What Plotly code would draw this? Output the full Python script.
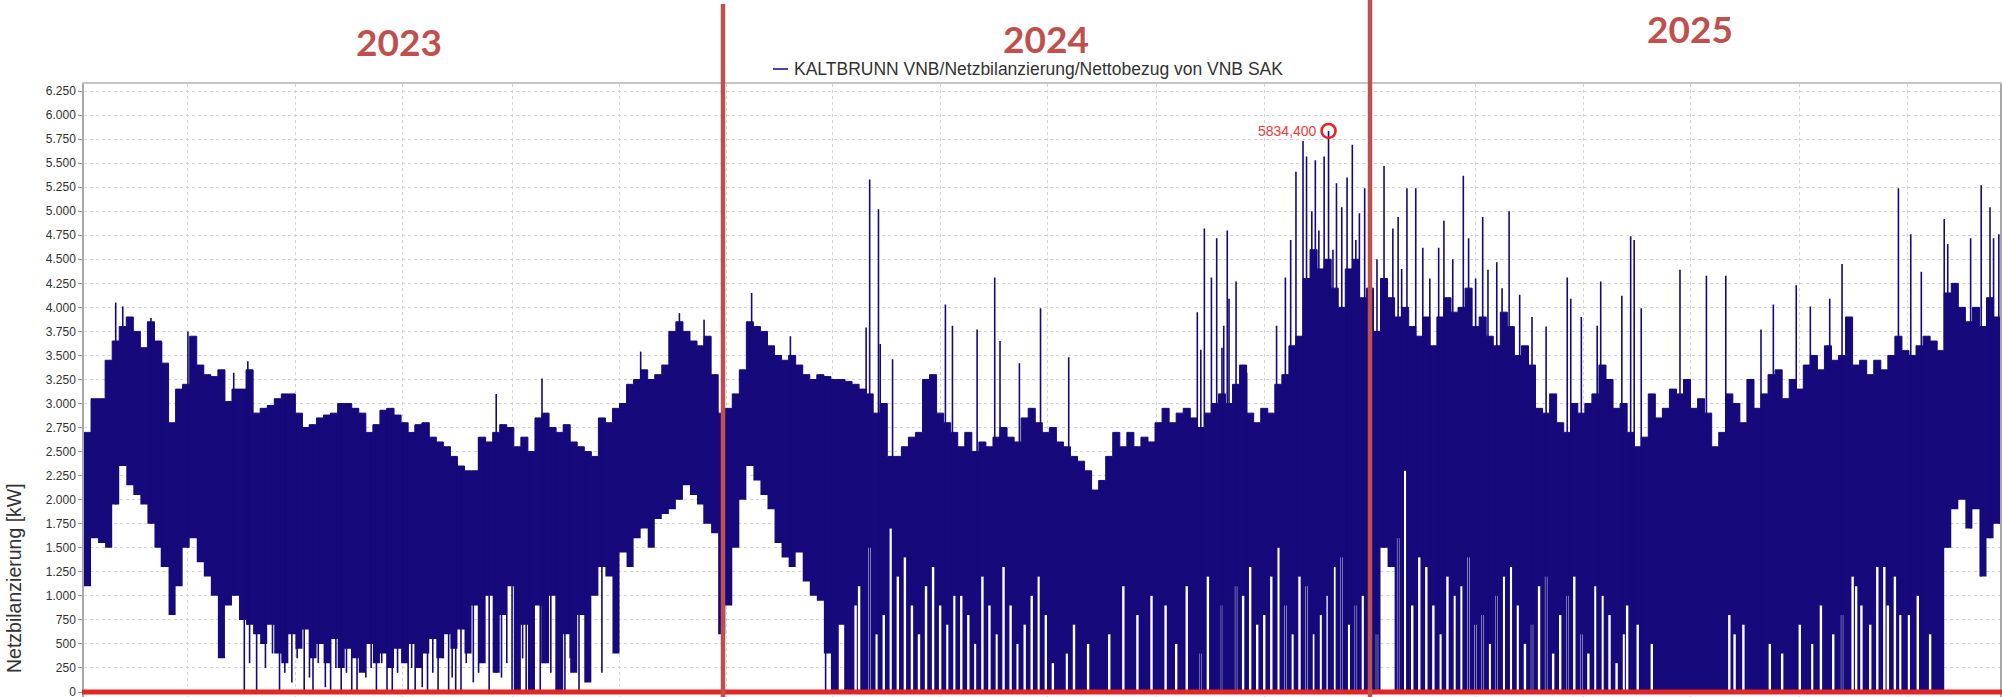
import pandas as pd
import plotly.graph_objects as go

# ---------------- data ----------------
band_start = "2023-01-01"
band_step_days = 4

# upper edge of the dense band, one value per 4-day step
upper = [
    2700, 3050, 3050, 3450, 3650, 3800, 3900, 3750, 3580, 3850,
    3650, 3420, 2800, 3150, 3200, 3700, 3400, 3300, 3280, 3350,
    3020, 3150, 3150, 3350, 2900, 2950, 2980, 3050, 3100, 3100,
    2900, 2750, 2780, 2850, 2880, 2900, 3000, 3000, 2950, 2900,
    2700, 2780, 2930, 2950, 2880, 2800, 2700, 2780, 2800, 2650,
    2600, 2550, 2450, 2350, 2300, 2300, 2650, 2600, 2700, 2780,
    2750, 2550, 2650, 2500, 2850, 2900, 2750, 2700, 2780, 2600,
    2550, 2500, 2450, 2850, 2800, 2950, 3000, 3200, 3250, 3350,
    3250, 3300, 3400, 3750, 3850, 3750, 3650, 3600, 3700, 3300,
    2900, 2950, 3100, 3350, 3850, 3800, 3750, 3600, 3500, 3450,
    3500, 3400, 3300, 3250, 3300, 3280, 3250, 3250, 3230, 3200,
    3150, 3100, 2900, 3000, 2450, 2450, 2550, 2650, 2700, 3250,
    3300, 2900, 2800, 2700, 2550, 2700, 2500, 2600, 2550, 2650,
    2750, 2650, 2600, 2850, 2950, 2800, 2700, 2750, 2600, 2550,
    2450, 2400, 2300, 2100, 2200, 2450, 2700, 2550, 2700, 2550,
    2650, 2600, 2800, 2950, 2800, 2900, 2950, 2850, 2750, 2900,
    3000, 3100, 3000, 3200, 3400, 2900, 2800, 2950, 2900, 3200,
    3300, 3600, 3700, 4300, 4600, 4400, 4500, 4200, 4000, 4400,
    4500, 4100, 4200, 3750, 4300, 4100, 3900, 4000, 3800, 3700,
    3900, 3600, 3900, 4100, 3950, 4000, 4200, 3800, 3900, 3700,
    3600, 3950, 3800, 3500, 3600, 3400, 2950, 2900, 3100, 2800,
    2700, 3000, 2900, 3000, 3100, 3400, 3250, 2950, 3000, 2700,
    2550, 2650, 3100, 2850, 2950, 3150, 3100, 3250, 2950, 3050,
    2900, 2550, 2700, 3100, 3000, 2800, 3250, 2950, 3100, 3300,
    3350, 3050, 3250, 3150, 3400, 3500, 3350, 3600, 3450, 3500,
    3900, 3400, 3450, 3300, 3450, 3350, 3500, 3700, 3550, 3500,
    3600, 3700, 3650, 3550, 4150, 4250, 4000, 3850, 4000, 3800,
    4100, 3900, 3700,
]

# lower edge of the dense band, one value per 4-day step
lower = [
    1100, 1600, 1550, 1500, 1950, 2350, 2150, 2050, 1950, 1750,
    1500, 1300, 800, 1100, 1500, 1600, 1350, 1200, 1000, 350,
    900, 1000, 750, 700, 600, 500, 700, 400, 300, 600,
    450, 650, 350, 500, 300, 550, 250, 450, 350, 200,
    500, 300, 400, 250, 450, 300, 500, 250, 400, 550,
    350, 600, 450, 650, 400, 900, 300, 1000, 200, 800,
    1100, 0, 700, 0, 900, 300, 1000, 0, 600, 200,
    800, 100, 1000, 1300, 1200, 400, 1450, 1300, 1600, 1700,
    1500, 1800, 1850, 1900, 2000, 2150, 2050, 1950, 1750, 1650,
    600, 900, 1500, 2000, 2350, 2200, 2050, 1900, 1550, 1400,
    1300, 1450, 1150, 1000, 950, 400, 0, 700, 0, 0,
    0, 0, 0, 0, 0, 0, 0, 0, 0, 0,
    0, 0, 0, 0, 0, 0, 0, 0, 0, 0,
    0, 0, 0, 0, 0, 0, 0, 0, 0, 0,
    0, 0, 0, 0, 0, 0, 0, 0, 0, 0,
    0, 0, 0, 0, 0, 0, 0, 0, 0, 0,
    0, 0, 0, 0, 0, 0, 0, 0, 0, 0,
    0, 0, 0, 0, 0, 0, 0, 0, 0, 0,
    0, 0, 0, 0, 1500, 1300, 0, 0, 0, 0,
    0, 0, 0, 0, 0, 0, 0, 0, 0, 0,
    0, 0, 0, 0, 0, 0, 0, 0, 0, 0,
    0, 0, 0, 0, 0, 0, 0, 0, 0, 0,
    0, 0, 0, 0, 0, 0, 0, 0, 0, 0,
    0, 0, 0, 0, 0, 0, 0, 0, 0, 0,
    0, 0, 0, 0, 0, 0, 0, 0, 0, 0,
    0, 0, 0, 0, 0, 0, 0, 0, 0, 0,
    0, 0, 0, 0, 1500, 1900, 2000, 1700, 1900, 1200,
    1600, 1750, 1000,
]

# tall single spikes above the band
peak_dates = [
    "2023-01-19", "2023-01-23", "2023-02-08", "2023-02-14", "2023-03-01",
    "2023-03-27", "2023-04-04", "2023-08-23", "2023-09-18", "2023-11-13",
    "2023-12-05", "2023-12-19", "2024-01-15", "2024-02-06", "2024-03-20",
    "2024-03-22", "2024-03-27", "2024-03-28", "2024-04-04", "2024-05-04",
    "2024-05-08", "2024-05-22", "2024-06-01", "2024-06-04", "2024-06-15",
    "2024-06-27", "2024-07-13", "2024-09-24", "2024-09-26", "2024-09-28",
    "2024-10-02", "2024-10-05", "2024-10-08", "2024-10-09", "2024-10-11",
    "2024-10-12", "2024-10-16", "2024-10-22", "2024-11-08", "2024-11-13",
    "2024-11-16", "2024-11-19", "2024-11-23", "2024-11-25", "2024-11-28",
    "2024-11-30", "2024-12-02", "2024-12-05", "2024-12-10", "2024-12-12",
    "2024-12-15", "2024-12-18", "2024-12-21", "2024-12-23", "2024-12-25",
    "2024-12-28", "2025-01-04", "2025-01-08", "2025-01-13", "2025-01-16",
    "2025-01-18", "2025-01-21", "2025-01-26", "2025-01-30", "2025-02-03",
    "2025-02-08", "2025-02-11", "2025-02-16", "2025-02-22", "2025-02-25",
    "2025-03-01", "2025-03-05", "2025-03-08", "2025-03-13", "2025-03-16",
    "2025-03-20", "2025-03-26", "2025-04-02", "2025-04-10", "2025-04-22",
    "2025-04-24", "2025-04-30", "2025-05-09", "2025-05-11", "2025-05-23",
    "2025-05-28", "2025-05-30", "2025-06-03", "2025-06-25", "2025-07-10",
    "2025-07-21", "2025-08-10", "2025-08-17", "2025-08-30", "2025-09-07",
    "2025-09-18", "2025-09-25", "2025-10-27", "2025-11-03", "2025-11-09",
    "2025-11-22", "2025-11-24", "2025-12-07", "2025-12-13", "2025-12-18",
    "2025-12-20", "2025-12-23",
]
peak_vals = [
    4050, 4010, 3890, 3640, 3750,
    3320, 3440, 3100, 3260, 3540,
    3940, 3870, 4150, 3700, 3790,
    5330, 5020, 3620, 3460, 4030,
    3810, 3770, 4310, 3650, 3420,
    3990, 3480, 3950, 3560, 4820,
    4310, 4720, 3580, 3810, 4800,
    4090, 4270, 3320, 3810, 4310,
    4700, 5410, 5730, 5570, 5000,
    5530, 4800, 5570, 4600, 5290,
    5040, 5350, 5690, 4700, 4980,
    5240, 4500, 5470, 4820, 4940,
    4400, 5240, 5240, 4620, 4300,
    4620, 4900, 4500, 5370, 4720,
    4300, 4940, 4390, 4470, 4200,
    5000, 4130, 3900, 3800, 4310,
    4090, 3900, 3810, 4270, 4120,
    4740, 4700, 3990, 4390, 4330,
    4330, 3770, 4030, 4230, 4010,
    4090, 4450, 5240, 4760, 4370,
    4920, 4660, 4720, 5270, 5040,
    4720, 4760,
]

# single drops down towards zero below the band (2023 / early 2024)
dip_dates = [
    "2023-04-02", "2023-04-05", "2023-04-09", "2023-04-14", "2023-04-18",
    "2023-04-22", "2023-04-25", "2023-04-29", "2023-05-02", "2023-05-06",
    "2023-05-09", "2023-05-11", "2023-05-14", "2023-05-18", "2023-05-21",
    "2023-05-24", "2023-05-27", "2023-05-30", "2023-06-02", "2023-06-05",
    "2023-06-07", "2023-06-10", "2023-06-13", "2023-06-16", "2023-06-19",
    "2023-06-22", "2023-06-25", "2023-06-28", "2023-07-01", "2023-07-04",
    "2023-07-06", "2023-07-08", "2023-07-10", "2023-07-12", "2023-07-15",
    "2023-07-18", "2023-07-21", "2023-07-24", "2023-07-27", "2023-07-29",
    "2023-07-31", "2023-08-03", "2023-08-06", "2023-08-10", "2023-08-13",
    "2023-08-16", "2023-08-19", "2023-08-22", "2023-08-26", "2023-08-29",
    "2023-09-01", "2023-09-04", "2023-09-07", "2023-09-09", "2023-09-11",
    "2023-09-13", "2023-09-17", "2023-09-20", "2023-09-23", "2023-09-26",
    "2023-09-29", "2023-10-01", "2023-10-04", "2023-10-09", "2023-10-13",
    "2023-10-22",
    "2024-02-26", "2024-03-01", "2024-03-04", "2024-03-08",
]
dip_lows = [
    0, 300, 0, 250, 400,
    0, 200, 100, 350, 0,
    150, 0, 300, 50, 0,
    250, 0, 200, 0, 0,
    350, 150, 250, 0, 300,
    0, 0, 200, 400, 0,
    250, 0, 300, 50, 0,
    200, 0, 350, 0, 150,
    0, 0, 300, 100, 200,
    400, 0, 250, 150, 300,
    0, 0, 350, 0, 250,
    0, 0, 300, 200, 0,
    400, 0, 350, 0, 450,
    200,
    0, 0, 0, 0,
]

# short intervals where the load never fell to zero (white slivers at the bottom),
# position in days after 2023-01-01 and the minimum reached there
gap_days = [
    438, 440, 446, 450, 454, 458, 462, 466, 470, 474,
    478, 482, 486, 490, 494, 498, 502, 506, 510, 514,
    518, 522, 526, 530, 534, 538, 542, 546, 550, 558,
    562, 570, 582, 590, 598, 606, 614, 620, 626, 634,
    638, 646, 654, 658, 662, 666, 670, 674, 678, 682,
    686, 690, 694, 698, 702, 706, 710, 714, 718, 722,
    726, 730, 734, 742, 746, 750, 754, 758, 762, 766,
    770, 774, 778, 782, 786, 790, 794, 798, 802, 806,
    810, 814, 818, 822, 826, 830, 834, 838, 842, 846,
    850, 854, 858, 862, 866, 870, 874, 876, 882, 890,
    934, 937, 942, 957, 964, 974, 981, 986, 993, 998,
    1004, 1006, 1009, 1014, 1018, 1022, 1024, 1028, 1031, 1036,
    1041, 1048,
]
gap_mins = [
    900, 1100, 1500, 600, 800, 1700, 1200, 1400, 900, 600,
    1100, 1300, 900, 700, 1000, 1000, 800, 500, 1200, 900,
    600, 1300, 900, 500, 700, 1000, 1200, 800, 300, 400,
    700, 500, 600, 1100, 800, 1000, 900, 500, 1100, 400,
    1200, 900, 1100, 1000, 1300, 700, 800, 1200, 1500, 900,
    600, 1200, 1100, 600, 800, 1000, 1300, 1400, 700, 900,
    1000, 1100, 600, 1200, 1600, 2300, 900, 1400, 1300, 900,
    600, 1200, 1000, 1100, 1400, 700, 800, 500, 1000, 1200,
    1300, 900, 500, 700, 1100, 1200, 400, 800, 1000, 1200,
    600, 400, 1100, 1000, 800, 300, 600, 900, 700, 500,
    800, 600, 700, 500, 400, 700, 500, 900, 600, 800,
    1200, 1100, 900, 700, 1300, 1300, 900, 1200, 800, 800,
    1000, 600,
]

max_date = "2024-12-07 12:00"
max_value = 5834.4

year_labels = ["2023", "2024", "2025"]
series_name = "KALTBRUNN VNB/Netzbilanzierung/Nettobezug von VNB SAK"
y_title = "Netzbilanzierung [kW]"

# ---------------- figure ----------------
W, H = 2002, 697
ML, MR, MT, MB = 84, 2, 84, 0
PW, PH = W - ML - MR, H - MT - MB


def px_x(px):
    return (px - ML) / PW


def px_y(py):
    return (H - MB - py) / PH


NAVY = "#15097b"
RED_ANN = "#c0504d"
FONT = "Liberation Sans, Arial, sans-serif"

n = min(len(upper), len(lower))
dates = pd.date_range(band_start, periods=n, freq=f"{band_step_days}D")
t0 = pd.Timestamp(band_start)


def idx_of(d):
    k = int((pd.Timestamp(d) - t0).days // band_step_days)
    return max(0, min(n - 1, k))


sx, sy = [], []
for d, v in zip(peak_dates, peak_vals):
    k = idx_of(d)
    sx += [d, d, None]
    sy += [lower[k], v, None]
k = idx_of(max_date)
sx += [max_date, max_date, None]
sy += [lower[k], max_value, None]
for d, v in zip(dip_dates, dip_lows):
    k = idx_of(d)
    sx += [d, d, None]
    sy += [v, upper[k], None]

gx, gy = [], []
for dd, v in zip(gap_days, gap_mins):
    d = t0 + pd.Timedelta(days=dd)
    gx += [d, d, None]
    gy += [0, v, None]

fig = go.Figure()
fig.add_trace(go.Scatter(
    x=dates, y=lower[:n], mode="lines",
    line=dict(width=0, shape="hv", color=NAVY),
    hoverinfo="skip", showlegend=False,
))
fig.add_trace(go.Scatter(
    x=dates, y=upper[:n], mode="lines",
    line=dict(width=1, shape="hv", color=NAVY),
    fill="tonexty", fillcolor=NAVY,
    name=series_name, showlegend=False,
))
fig.add_trace(go.Scatter(
    x=gx, y=gy, mode="lines",
    line=dict(width=2.4, color="white"),
    hoverinfo="skip", showlegend=False, connectgaps=False,
))
fig.add_trace(go.Scatter(
    x=sx, y=sy, mode="lines",
    line=dict(width=1.6, color=NAVY),
    hoverinfo="skip", showlegend=False, connectgaps=False,
))
fig.add_trace(go.Scatter(
    x=[max_date], y=[max_value], mode="markers",
    marker=dict(symbol="circle-open", size=14, color="#e8242b",
                line=dict(width=2.6, color="#e8242b")),
    hoverinfo="skip", showlegend=False,
))

grid = "#d4d4d4"
fig.update_layout(
    width=W, height=H,
    margin=dict(l=ML, r=MR, t=MT, b=MB, pad=0),
    paper_bgcolor="white", plot_bgcolor="white",
    separators=",.",
    showlegend=False,
    font=dict(family=FONT, color="#333333"),
    xaxis=dict(
        type="date",
        range=["2023-01-01", "2025-12-23 16:00"],
        showgrid=True, gridcolor=grid, griddash="dot", gridwidth=1,
        tick0="2023-01-01", dtick="M2",
        showticklabels=False, ticks="",
        showline=True, linecolor="#c6c6c6", linewidth=2, mirror=True,
        zeroline=False, automargin=False,
    ),
    yaxis=dict(
        range=[-52, 6323],
        tick0=0, dtick=250, tickformat=",d",
        showgrid=True, gridcolor=grid, griddash="dot", gridwidth=1,
        ticks="outside", ticklen=4, tickcolor="#999999", tickwidth=1,
        tickfont=dict(family=FONT, size=12, color="#333333"),
        ticklabeloverflow="allow",
        showline=True, linecolor="#a8a8a8", linewidth=1.5, mirror=True,
        zeroline=False, automargin=False,
    ),
)

shapes = [
    # red zero line
    dict(type="line", xref="paper", yref="y", x0=px_x(82), x1=px_x(2004), y0=0, y1=0,
         line=dict(color="#e52521", width=5), layer="above"),
    # year separators
    dict(type="line", xref="paper", yref="paper", x0=px_x(723), x1=px_x(723),
         y0=px_y(697), y1=px_y(4), line=dict(color=RED_ANN, width=4.5), layer="above"),
    dict(type="line", xref="paper", yref="paper", x0=px_x(1370), x1=px_x(1370),
         y0=px_y(697), y1=px_y(0), line=dict(color=RED_ANN, width=4.5), layer="above"),
    # legend sample
    dict(type="line", xref="paper", yref="paper", x0=px_x(773), x1=px_x(788),
         y0=px_y(69), y1=px_y(69), line=dict(color=NAVY, width=1.5)),
]
fig.update_layout(shapes=shapes)

year_pos = [(399, 41), (1046, 38.5), (1690, 28.5)]
ann = []
for lab, (px, py) in zip(year_labels, year_pos):
    ann.append(dict(text=lab, xref="paper", yref="paper", x=px_x(px), y=px_y(py),
                    xanchor="center", yanchor="middle", showarrow=False,
                    font=dict(family="Lato, Open Sans, sans-serif", size=37,
                              color=RED_ANN, weight="bold")))
ann.append(dict(text=series_name, xref="paper", yref="paper", x=px_x(792), y=px_y(69),
                xanchor="left", yanchor="middle", showarrow=False,
                font=dict(family=FONT, size=17.5, color="#333333")))
ann.append(dict(text=y_title, xref="paper", yref="paper", x=px_x(14), y=px_y(578),
                xanchor="center", yanchor="middle", textangle=-90, showarrow=False,
                font=dict(family=FONT, size=19.5, color="#333333")))
ann.append(dict(text=f"{max_value:.3f}".replace(".", ","), x=max_date, y=max_value,
                xref="x", yref="y", xanchor="right", yanchor="middle", xshift=-10,
                showarrow=False,
                font=dict(family=FONT, size=14, color="#f03a3a")))
fig.update_layout(annotations=ann)

fig.write_html(
    "out.html",
    config={"displayModeBar": False},
    post_script="document.body.style.margin='0px';document.body.style.overflow='hidden';",
)
